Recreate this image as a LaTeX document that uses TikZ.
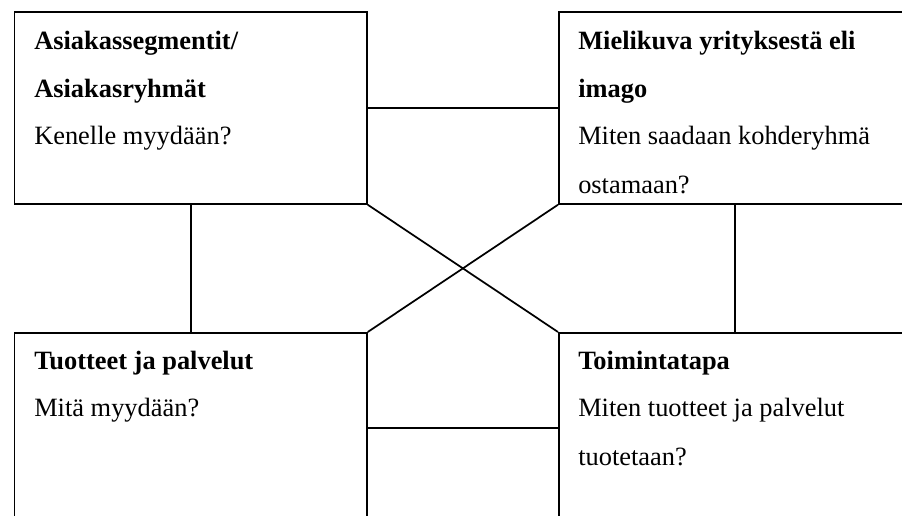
\documentclass[tikz,border=0pt]{standalone}
\usepackage{fontspec}
\setmainfont{Liberation Serif}
\begin{document}
\begin{tikzpicture}[x=0.75pt,y=-0.75pt,
  box/.style={draw,line width=1.3pt,rectangle,inner sep=0pt,anchor=north west,
    minimum width=264.4pt,minimum height=144pt},
  lowbox/.style={box,minimum height=142.5pt},
  link/.style={line width=1.3pt},
  head/.style={anchor=base west,inner sep=0pt,font=\fontsize{19.8pt}{24pt}\selectfont\bfseries},
  body/.style={anchor=base west,inner sep=0pt,font=\fontsize{19.8pt}{24pt}\selectfont}]
\useasboundingbox (0,0) rectangle (902,515);
\clip (0,0) rectangle (902,515);
% the four boxes
\node[box] (tl) at (13.5,11) {};
\node[box] (tr) at (558,11) {};
\node[lowbox] (bl) at (13.5,332) {};
\node[lowbox] (br) at (558,332) {};
% connectors
\draw[link] (tl.east) -- (tr.west);
\draw[link] (bl.east) -- (br.west);
\draw[link] (tl.south) -- (bl.north);
\draw[link] (tr.south) -- (br.north);
\draw[link] (tl.south east) -- (br.north west);
\draw[link] (bl.north east) -- (tr.south west);
% texts
\node[head] (tl1) at (34,49) {Asiakassegmentit/};
\node[head] (tl2) at (34,97) {Asiakasryhmät};
\node[body] (tl3) at (34,144) {Kenelle myydään?};
\node[head] (tr1) at (578,49) {Mielikuva yrityksestä eli};
\node[head] (tr2) at (578,97) {imago};
\node[body] (tr3) at (578,144) {Miten saadaan kohderyhmä};
\node[body] (tr4) at (578,193) {ostamaan?};
\node[head] (bl1) at (34,369) {Tuotteet ja palvelut};
\node[body] (bl2) at (34,416) {Mitä myydään?};
\node[head] (br1) at (578,369) {Toimintatapa};
\node[body] (br2) at (578,416) {Miten tuotteet ja palvelut};
\node[body] (br3) at (578,465) {tuotetaan?};
\end{tikzpicture}
\end{document}
